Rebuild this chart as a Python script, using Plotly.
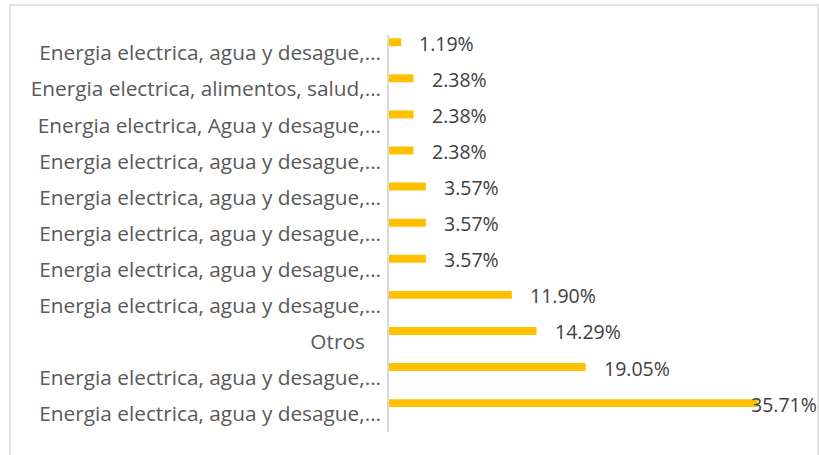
import plotly.graph_objects as go

# Data (bottom to top)
categories = [
    "Energia electrica, agua y desague,...",
    "Energia electrica, agua y desague,...",
    "Otros\u00a0\u00a0\u00a0",
    "Energia electrica, agua y desague,...",
    "Energia electrica, agua y desague,...",
    "Energia electrica, agua y desague,...",
    "Energia electrica, agua y desague,...",
    "Energia electrica, agua y desague,...",
    "Energia electrica, Agua y desague,...",
    "Energia electrica, alimentos, salud,...",
    "Energia electrica, agua y desague,...",
]
values = [35.71, 19.05, 14.29, 11.90, 3.57, 3.57, 3.57, 2.38, 2.38, 2.38, 1.19]
value_labels = ["35.71%", "19.05%", "14.29%", "11.90%", "3.57%", "3.57%", "3.57%",
                "2.38%", "2.38%", "2.38%", "1.19%"]

positions = list(range(len(categories)))
W, H = 819, 455
L, R, T, B = 389, 17, 35, 23
pw, ph = W - L - R, H - T - B
FONT = "Open Sans"

fig = go.Figure(go.Bar(
    x=values, y=positions, orientation="h",
    width=0.22, offset=0.19,
    marker=dict(color="#FFC000", line=dict(width=0)),
    hoverinfo="skip",
))

xshifts = [-9 if v == max(values) else 16 for v in values]
for p, v, lab, xs in zip(positions, values, value_labels, xshifts):
    fig.add_annotation(x=v, y=p + 0.3, text=lab, showarrow=False,
                       xanchor="left", yanchor="middle", xshift=xs, yshift=-1,
                       font=dict(family=FONT, size=19.5, color="#404040"))

def px_x(p):
    return (p - L) / pw

def px_y(p):
    return (H - B - p) / ph

fig.add_shape(type="rect", xref="paper", yref="paper",
              x0=px_x(10), x1=px_x(818), y0=px_y(470), y1=px_y(5),
              line=dict(color="#D9D9D9", width=1.5), fillcolor="rgba(0,0,0,0)")

fig.update_layout(
    width=W, height=H,
    margin=dict(l=L, r=R, t=T, b=B, pad=0),
    paper_bgcolor="white", plot_bgcolor="white",
    showlegend=False,
    xaxis=dict(range=[0, 40], visible=False, showgrid=False, zeroline=False),
    yaxis=dict(range=[-0.5, 10.5], tickmode="array", tickvals=positions,
               ticktext=categories, showgrid=False, zeroline=False,
               showline=True, linecolor="#D9D9D9", linewidth=1.5,
               ticks="", ticklabelstandoff=2,
               tickfont=dict(family=FONT, size=20.8, color="#595959")),
)

fig.write_html("out.html", config={"displayModeBar": False},
               post_script="document.body.style.margin='0';document.body.style.overflow='hidden';")
